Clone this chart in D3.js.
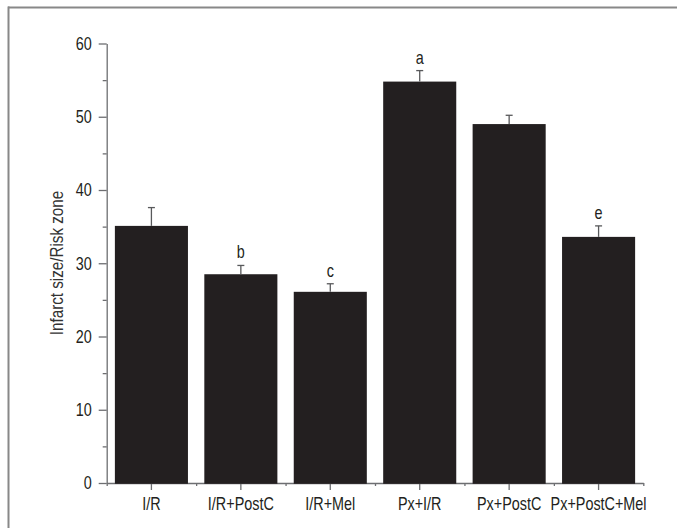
<!DOCTYPE html>
<html>
<head>
<meta charset="utf-8">
<script src="https://cdn.jsdelivr.net/npm/d3@7"></script>
<style>
    html, body { margin: 0; padding: 0; background: #fff; }
    #chart { width: 677px; height: 528px; }
    text { font-family: "Liberation Sans", Arial, sans-serif; }
</style>
</head>
<body>
<div id="chart"></div>
<script>
// Infarct size / risk zone per treatment group, mean with upper SE bar.
var groups = ['I/R', 'I/R+PostC', 'I/R+Mel', 'Px+I/R', 'Px+PostC', 'Px+PostC+Mel'];
var means = [35.1, 28.5, 26.1, 54.8, 49.0, 33.6];
var errors = [2.5, 1.2, 1.1, 1.5, 1.2, 1.5];
var marks = ['', 'b', 'c', 'a', '', 'e'];
var yTicks = [0, 10, 20, 30, 40, 50, 60];
var yMinorTicks = [5, 15, 25, 35, 45, 55];

(function () {
    var W = 677, H = 528;
    var ink = '#231f20';
    var axisColor = '#6d6e71';
    var narrow = 0.8;    // horizontal squeeze to mimic a condensed face
    var fs = 18;

    var svg = d3.select('#chart').append('svg')
        .attr('width', W).attr('height', H)
        .attr('viewBox', '0 0 ' + W + ' ' + H);

    // Frame (only top and left edges show in the crop)
    svg.append('line')
        .attr('x1', 8).attr('x2', W).attr('y1', 7.5).attr('y2', 7.5)
        .attr('stroke', '#888').attr('stroke-width', 2);
    svg.append('line')
        .attr('x1', 8.5).attr('x2', 8.5).attr('y1', 6.5).attr('y2', H)
        .attr('stroke', '#888').attr('stroke-width', 2);

    var x0 = 106.7, x1 = 643.3;
    var x = d3.scaleBand().domain(groups).range([x0, x1])
        .paddingInner(0.183).paddingOuter(0.0915);
    var y = d3.scaleLinear().domain([0, 60]).range([483, 43.5]);
    var xEdges = d3.scaleLinear().domain([0, groups.length]).range([x0, x1]);

    function styleAxis(a) {
        a.selectAll('path, line').attr('stroke', axisColor).attr('stroke-width', 1.3);
        a.selectAll('text').attr('fill', ink).attr('font-size', fs)
            .attr('font-family', null)
            .each(function () {
                var t = d3.select(this);
                var tx = +t.attr('x') || 0;
                t.attr('x', tx / narrow).attr('transform', 'scale(' + narrow + ',1)');
            });
    }

    // y axis: majors with labels, minors bare
    var yAxis = svg.append('g').attr('transform', 'translate(' + x0 + ',0)')
        .call(d3.axisLeft(y).tickValues(yTicks).tickSize(8).tickSizeOuter(0).tickPadding(7));
    var yMinor = svg.append('g').attr('transform', 'translate(' + x0 + ',0)')
        .call(d3.axisLeft(y).tickValues(yMinorTicks).tickSize(4).tickSizeOuter(0).tickFormat(''));
    yMinor.select('.domain').remove();
    styleAxis(yAxis);
    styleAxis(yMinor);

    // x axis: labelled ticks at bar centres, short ticks at group edges
    var xAxis = svg.append('g').attr('transform', 'translate(0,' + y(0) + ')')
        .call(d3.axisBottom(x).tickSize(7).tickSizeOuter(0).tickPadding(7));
    var xMinor = svg.append('g').attr('transform', 'translate(0,' + y(0) + ')')
        .call(d3.axisBottom(xEdges).tickValues(d3.range(groups.length + 1))
            .tickSize(3).tickSizeOuter(0).tickFormat(''));
    xMinor.select('.domain').remove();
    styleAxis(xAxis);
    styleAxis(xMinor);

    // Bars
    svg.append('g').selectAll('rect')
        .data(groups)
        .join('rect')
        .attr('x', function (d) { return x(d); })
        .attr('width', x.bandwidth())
        .attr('y', function (d, i) { return y(means[i]); })
        .attr('height', function (d, i) { return y(0) + 0.8 - y(means[i]); })
        .attr('fill', ink);

    // Upper error bars
    var eb = svg.append('g').attr('stroke', '#58595b').attr('stroke-width', 1.3);
    groups.forEach(function (g, i) {
        var cx = x(g) + x.bandwidth() / 2;
        var top = y(means[i] + errors[i]);
        eb.append('line').attr('x1', cx).attr('x2', cx)
            .attr('y1', y(means[i])).attr('y2', top);
        eb.append('line').attr('x1', cx - 3.5).attr('x2', cx + 3.5)
            .attr('y1', top).attr('y2', top);
    });

    // Significance letters
    svg.append('g').selectAll('g')
        .data(groups)
        .join('g')
        .attr('transform', function (d, i) {
            return 'translate(' + (x(d) + x.bandwidth() / 2) + ',' +
                (y(means[i] + errors[i]) - 7) + ') scale(' + narrow + ',1)';
        })
        .append('text')
        .attr('text-anchor', 'middle')
        .attr('font-size', fs)
        .attr('fill', ink)
        .text(function (d, i) { return marks[i]; });

    // Axis title
    svg.append('text')
        .attr('transform', 'translate(63,263) rotate(-90) scale(' + narrow + ',1)')
        .attr('text-anchor', 'middle')
        .attr('font-size', 19)
        .attr('fill', '#333')
        .text('Infarct size/Risk zone');
})();
</script>
</body>
</html>
